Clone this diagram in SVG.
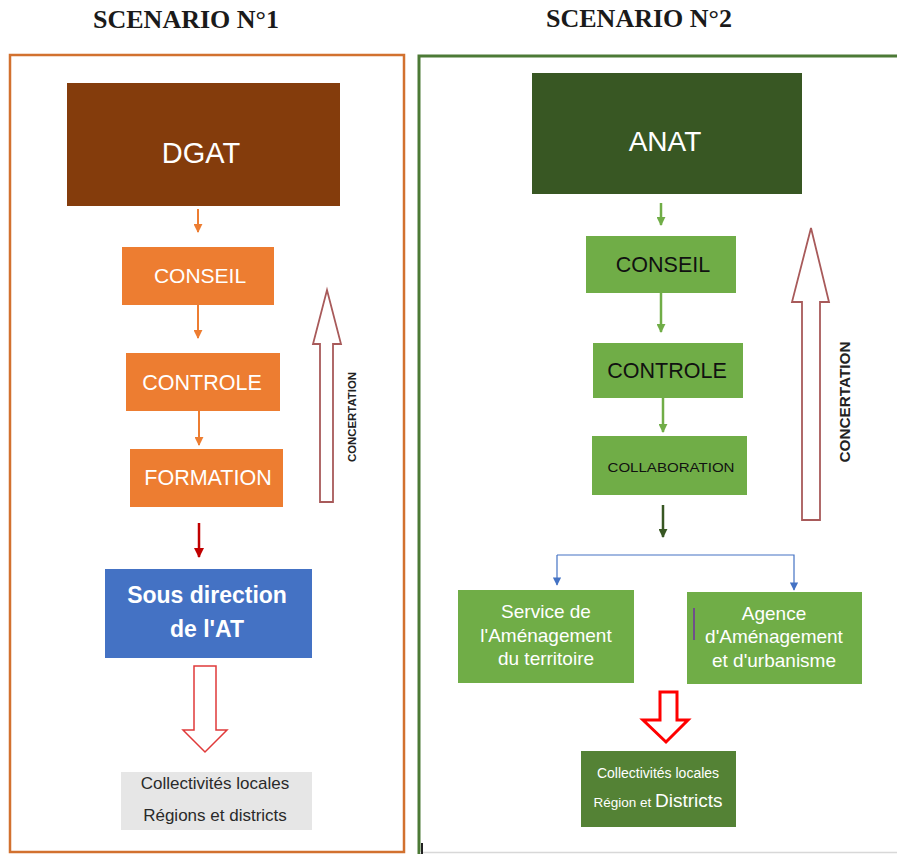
<svg xmlns="http://www.w3.org/2000/svg" width="897" height="854" viewBox="0 0 897 854">
<style>
.title{font-family:"Liberation Serif","Times New Roman",serif;font-weight:bold;font-size:26px;fill:#1a1a1a;text-anchor:middle}
.t{font-family:"Liberation Sans",Arial,sans-serif;text-anchor:middle}
.w{fill:#ffffff}
.k{fill:#111111}
.conc{font-family:"Liberation Sans",Arial,sans-serif;font-weight:bold;fill:#222;text-anchor:middle}
.oarr{stroke:#ED7D31;stroke-width:2;fill:none}
.garr{stroke:#70AD47;stroke-width:2.5;fill:none}
.block{fill:#ffffff;stroke:#A85A5A;stroke-width:1.8}
</style>
<defs>
<marker id="mo" viewBox="0 0 10 10" refX="9" refY="5" markerWidth="4.5" markerHeight="4.5" orient="auto"><path d="M0,0 L10,5 L0,10 z" fill="#ED7D31"/></marker>
<marker id="mr" viewBox="0 0 10 10" refX="9" refY="5" markerWidth="4" markerHeight="4" orient="auto"><path d="M0,0 L10,5 L0,10 z" fill="#C00000"/></marker>
<marker id="mg" viewBox="0 0 10 10" refX="9" refY="5" markerWidth="3.6" markerHeight="3.6" orient="auto"><path d="M0,0 L10,5 L0,10 z" fill="#70AD47"/></marker>
<marker id="mdg" viewBox="0 0 10 10" refX="9" refY="5" markerWidth="3.6" markerHeight="3.6" orient="auto"><path d="M0,0 L10,5 L0,10 z" fill="#385723"/></marker>
<marker id="mb" viewBox="0 0 10 10" refX="9" refY="5" markerWidth="7" markerHeight="7" orient="auto"><path d="M0,0 L10,5 L0,10 z" fill="#4472C4"/></marker>
</defs>
<rect width="897" height="854" fill="#ffffff"/>

<text class="title" x="186" y="28">SCENARIO N°1</text>
<text class="title" x="639" y="27">SCENARIO N°2</text>

<!-- frames -->
<rect id="frame1" x="10" y="55" width="394" height="797" fill="none" stroke="#D2712F" stroke-width="2.5"/>
<g id="frame2">
<path d="M897,56 L419,56 L419,854" fill="none" stroke="#4C7A36" stroke-width="3"/>
<line x1="420" y1="852.5" x2="897" y2="852.5" stroke="#D8D8D8" stroke-width="1.5"/>
<line x1="422" y1="843" x2="422" y2="854" stroke="#222" stroke-width="2"/>
</g>

<!-- Scenario 1 nodes -->
<g id="dgat"><rect x="67" y="83" width="273" height="123" fill="#843C0C"/><text class="t w" x="201" y="163" font-size="29">DGAT</text></g>
<g id="conseil1"><rect x="122" y="247" width="152" height="58" fill="#ED7D31"/><text class="t w" x="200" y="283" font-size="21">CONSEIL</text></g>
<g id="controle1"><rect x="126" y="353" width="154" height="58" fill="#ED7D31"/><text class="t w" x="202" y="390" font-size="21.5">CONTROLE</text></g>
<g id="formation1"><rect x="130" y="449" width="153" height="58" fill="#ED7D31"/><text class="t w" x="208" y="485" font-size="21.5">FORMATION</text></g>
<g id="sousdir"><rect x="105" y="569" width="207" height="89" fill="#4472C4"/><text class="t w" x="207" y="603" font-size="23" font-weight="bold">Sous direction</text><text class="t w" x="207" y="637" font-size="23" font-weight="bold">de l'AT</text></g>
<g id="collectivites1"><rect x="121" y="772" width="191" height="58" fill="#E6E6E6"/><text class="t" fill="#2a2a2a" x="215" y="789" font-size="17">Collectivités locales</text><text class="t" fill="#2a2a2a" x="215" y="821" font-size="17">Régions et districts</text></g>
<g id="concertation1"><path class="block" d="M320,502 L320,344 L313,344 L327,290 L341,344 L333,344 L333,502 Z"/><text class="conc" transform="translate(355.5,417) rotate(-90)" font-size="10" textLength="90" lengthAdjust="spacingAndGlyphs">CONCERTATION</text></g>

<!-- Scenario 2 nodes -->
<g id="anat"><rect x="532" y="73" width="270" height="121" fill="#385723"/><text class="t w" x="665" y="151" font-size="28">ANAT</text></g>
<g id="conseil2"><rect x="586" y="236" width="150" height="57" fill="#70AD47"/><text class="t k" x="663" y="272" font-size="21.5">CONSEIL</text></g>
<g id="controle2"><rect x="593" y="343" width="150" height="55" fill="#70AD47"/><text class="t k" x="667" y="378" font-size="21.5">CONTROLE</text></g>
<g id="collaboration"><rect x="592" y="436" width="155" height="59" fill="#70AD47"/><text class="t k" x="671" y="472" font-size="13" textLength="127" lengthAdjust="spacingAndGlyphs">COLLABORATION</text></g>
<g id="service"><rect x="458" y="590" width="176" height="93" fill="#70AD47"/><text class="t w" x="546" y="618" font-size="19">Service de</text><text class="t w" x="546" y="642" font-size="19">l'Aménagement</text><text class="t w" x="546" y="665" font-size="19">du territoire</text></g>
<g id="agence"><rect x="687" y="592" width="175" height="92" fill="#70AD47"/><line x1="694" y1="608" x2="694" y2="640" stroke="#7030A0" stroke-width="1.5"/><text class="t w" x="774" y="620" font-size="19">Agence</text><text class="t w" x="774" y="643" font-size="19">d'Aménagement</text><text class="t w" x="774" y="667" font-size="19">et d'urbanisme</text></g>
<g id="collectivites2"><rect x="581" y="751" width="155" height="76" fill="#548235"/><text class="t w" x="658" y="778" font-size="14">Collectivités locales</text><text class="t w" x="658" y="807" font-size="13.5">Région et <tspan font-size="19">Districts</tspan></text></g>
<g id="concertation2"><path class="block" d="M802,520 L802,302 L792,302 L811,228 L829,302 L820,302 L820,520 Z"/><text class="conc" transform="translate(850,402) rotate(-90)" font-size="14" textLength="121" lengthAdjust="spacingAndGlyphs">CONCERTATION</text></g>

<!-- connectors -->
<g id="connectors">
<line class="oarr" x1="198" y1="209" x2="198" y2="232" marker-end="url(#mo)"/>
<line class="oarr" x1="198" y1="305" x2="198" y2="338" marker-end="url(#mo)"/>
<line class="oarr" x1="199" y1="411" x2="199" y2="445" marker-end="url(#mo)"/>
<line x1="199" y1="523" x2="199" y2="557" stroke="#C00000" stroke-width="2.5" marker-end="url(#mr)"/>
<path d="M194,666 L216,666 L216,730 L227,730 L205,752 L183,730 L194,730 Z" fill="#ffffff" stroke="#E03A3A" stroke-width="1.5"/>
<line class="garr" x1="661" y1="203" x2="661" y2="225" marker-end="url(#mg)"/>
<line class="garr" x1="661" y1="293" x2="661" y2="332" marker-end="url(#mg)"/>
<line class="garr" x1="663" y1="398" x2="663" y2="432" marker-end="url(#mg)"/>
<line x1="663" y1="505" x2="663" y2="537" stroke="#385723" stroke-width="2.5" marker-end="url(#mdg)"/>
<path d="M557,555 L794,555 L794,590" fill="none" stroke="#4472C4" stroke-width="1.2" marker-end="url(#mb)"/>
<line x1="557" y1="555" x2="557" y2="585" stroke="#4472C4" stroke-width="1.2" marker-end="url(#mb)"/>
<path d="M660,692 L677,692 L677,720 L688,720 L666,742 L643,720 L660,720 Z" fill="#ffffff" stroke="#FF0000" stroke-width="3"/>
</g>
</svg>
